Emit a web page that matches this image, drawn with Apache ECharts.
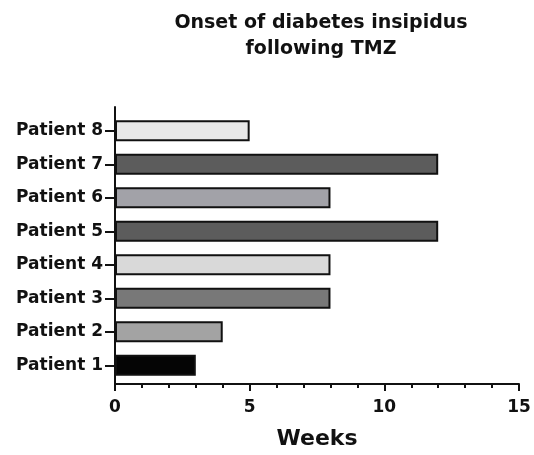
<!DOCTYPE html>
<html>
<head>
<meta charset="utf-8">
<script src="https://cdn.jsdelivr.net/npm/echarts@6/dist/echarts.min.js"></script>
<style>
  html, body { margin: 0; padding: 0; background: #fff; }
  #chart { width: 534px; height: 455px; }
</style>
</head>
<body>
<div id="chart"></div>
<script>
// data
var patients = ["Patient 1", "Patient 2", "Patient 3", "Patient 4", "Patient 5", "Patient 6", "Patient 7", "Patient 8"];
var weeks = [3, 4, 8, 8, 12, 8, 12, 5];
var xTicks = [0, 5, 10, 15];

// grey shade per bar
var barColors = ["#050505", "#a3a3a3", "#787878", "#d9d9d9", "#5c5c5c", "#a2a2a8", "#5c5c5c", "#e8e8e8"];

var font = "DejaVu Sans";
var chart = echarts.init(document.getElementById("chart"));

var option = {
  animation: false,
  backgroundColor: "#fff",
  title: {
    text: "Onset of diabetes insipidus\nfollowing TMZ",
    left: 316,
    top: 5,
    textAlign: "center",
    textStyle: { fontFamily: font, fontWeight: "bold", fontSize: 19, lineHeight: 26, color: "#111" }
  },
  grid: [
    // axis frame (lines run a bit past the bars)
    { left: 115, right: 15, top: 107, bottom: 68 },
    // bars
    { left: 115, right: 15, top: 114, bottom: 73 }
  ],
  xAxis: [
    {
      gridIndex: 0,
      type: "value",
      min: xTicks[0],
      max: xTicks[xTicks.length - 1],
      interval: 5,
      name: "Weeks",
      nameLocation: "middle",
      nameGap: 44,
      nameTextStyle: { fontFamily: font, fontWeight: "bold", fontSize: 22, color: "#111" },
      axisLine: { show: true, lineStyle: { color: "#111", width: 2 } },
      axisTick: { show: true, length: 7, lineStyle: { color: "#111", width: 2 } },
      minorTick: { show: true, splitNumber: 5, length: 4, lineStyle: { color: "#111", width: 2 } },
      splitLine: { show: false },
      axisLabel: { margin: 15, fontFamily: font, fontWeight: "bold", fontSize: 17, color: "#111" }
    },
    {
      gridIndex: 1,
      type: "value",
      min: xTicks[0],
      max: xTicks[xTicks.length - 1],
      show: false
    }
  ],
  yAxis: [
    {
      gridIndex: 0,
      type: "value",
      axisLine: { show: true, lineStyle: { color: "#111", width: 2 } },
      axisTick: { show: false },
      axisLabel: { show: false },
      splitLine: { show: false }
    },
    {
      gridIndex: 1,
      type: "category",
      data: patients,
      axisLine: { show: false },
      axisTick: { show: true, alignWithLabel: true, length: 10, lineStyle: { color: "#111", width: 2 } },
      axisLabel: { margin: 12, fontFamily: font, fontWeight: "bold", fontSize: 17, color: "#111" },
      splitLine: { show: false }
    }
  ],
  series: [
    {
      type: "bar",
      xAxisIndex: 1,
      yAxisIndex: 1,
      barWidth: 21,
      data: weeks.map(function (v, i) {
        return { value: v, itemStyle: { color: barColors[i] } };
      }),
      itemStyle: { borderColor: "#111", borderWidth: 2 }
    }
  ]
};

chart.setOption(option);
</script>
</body>
</html>
